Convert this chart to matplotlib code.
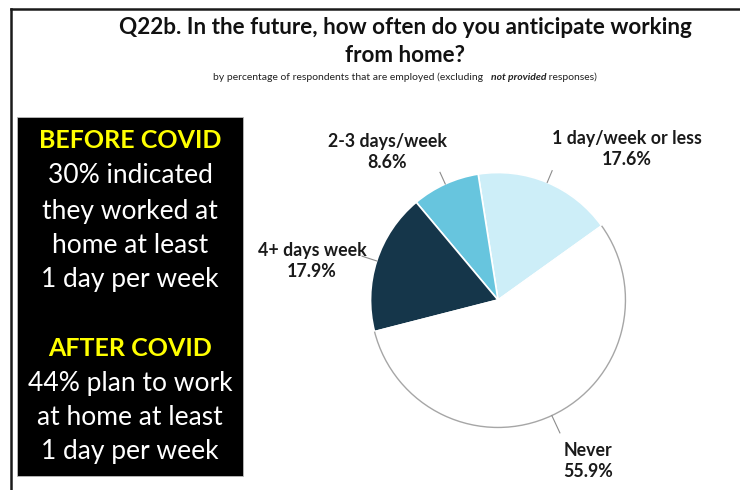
import numpy as np
import matplotlib
matplotlib.use("Agg")
import matplotlib.pyplot as plt
from matplotlib.patches import Arc, Rectangle
from matplotlib.lines import Line2D

plt.rcParams['font.family'] = ['Lato', 'DejaVu Sans']

# survey responses, counter-clockwise from the upper right
categories = ["1 day/week or less", "2-3 days/week", "4+ days week", "Never"]
shares = [17.6, 8.6, 17.9, 55.9]
colors = ["#cdeef8", "#67c5de", "#15364a", "#ffffff"]
label_pos = [(627, 149), (387, 152), (312, 261), (588, 461)]
start_angle = 35.6

W, H = 740, 490
fig = plt.figure(figsize=(W / 100, H / 100), dpi=100)
fig.patch.set_facecolor("white")


def fx(x, y):
    return x / W, 1 - y / H


# pie axes: centre (498, 300), radius 130 px
cx, cy, r = 498, 300, 130
ax = fig.add_axes([(cx - r) / W, 1 - (cy + r) / H, 2 * r / W, 2 * r / H])
wedges, _ = ax.pie(shares, colors=colors, startangle=start_angle,
                   counterclock=True, radius=1.0,
                   wedgeprops=dict(edgecolor="white", linewidth=1.2))
ax.set_xlim(-1.02, 1.02)
ax.set_ylim(-1.02, 1.02)
ax.set_aspect("equal")
ax.axis("off")

# grey outline round the "Never" slice only
never = wedges[3]
ax.add_patch(Arc((0, 0), 2, 2, theta1=never.theta1, theta2=never.theta2,
                 color="#a6a6a6", lw=1.0))

# leader lines
for w, reach in zip(wedges, [1.1, 1.1, 1.12, 1.15]):
    mid = np.deg2rad((w.theta1 + w.theta2) / 2)
    ax.plot([1.0 * np.cos(mid), reach * np.cos(mid)],
            [1.0 * np.sin(mid), reach * np.sin(mid)],
            color="#8c8c8c", lw=0.8, clip_on=False)

for cat, val, (x, y) in zip(categories, shares, label_pos):
    fig.text(*fx(x, y), f"{cat}\n{val}%", ha="center", va="center",
             fontsize=12.8, fontweight="bold", color="#1a1a1a",
             linespacing=1.25)

# outer frame (top and left edges)
fig.add_artist(Line2D([11 / W, 11 / W], [0, 1 - 9 / H], transform=fig.transFigure,
                      color="#1a1a1a", lw=1.8))
fig.add_artist(Line2D([11 / W, 1], [1 - 9 / H, 1 - 9 / H], transform=fig.transFigure,
                      color="#1a1a1a", lw=1.8))

# title
fig.text(*fx(405, 27), "Q22b. In the future, how often do you anticipate working",
         ha="center", va="center", fontsize=16.2, fontweight="bold", color="#111111")
fig.text(*fx(405, 55), "from home?", ha="center", va="center",
         fontsize=16.2, fontweight="bold", color="#111111")

# subtitle, pieces laid end to end
renderer = fig.canvas.get_renderer()
x = 213 / W
pieces = [("by percentage of respondents that are employed (excluding   ", "normal", "normal"),
          ("not provided", "bold", "italic"),
          (" responses)", "normal", "normal")]
for txt, wt, st in pieces:
    t = fig.text(x, 1 - 77 / H, txt, ha="left", va="center", fontsize=7.5,
                 fontweight=wt, style=st, color="#222222")
    x += t.get_window_extent(renderer).width / W

# call-out box
fig.add_artist(Rectangle(fx(17, 476), 226 / W, 359 / H, transform=fig.transFigure,
                         facecolor="black", edgecolor="#bbbbbb", lw=0.6))
box_lines = [
    ("BEFORE COVID", 141, "#ffff00", "bold"),
    ("30% indicated", 175, "white", "normal"),
    ("they worked at", 211, "white", "normal"),
    ("home at least", 245, "white", "normal"),
    ("1 day per week", 279, "white", "normal"),
    ("AFTER COVID", 348, "#ffff00", "bold"),
    ("44% plan to work", 384, "white", "normal"),
    ("at home at least", 417, "white", "normal"),
    ("1 day per week", 451, "white", "normal"),
]
for txt, y, col, wt in box_lines:
    fig.text(*fx(130, y), txt, ha="center", va="center",
             fontsize=18 if wt == "bold" else 19,
             fontweight=wt, color=col)

fig.savefig("out.png", dpi=100)
